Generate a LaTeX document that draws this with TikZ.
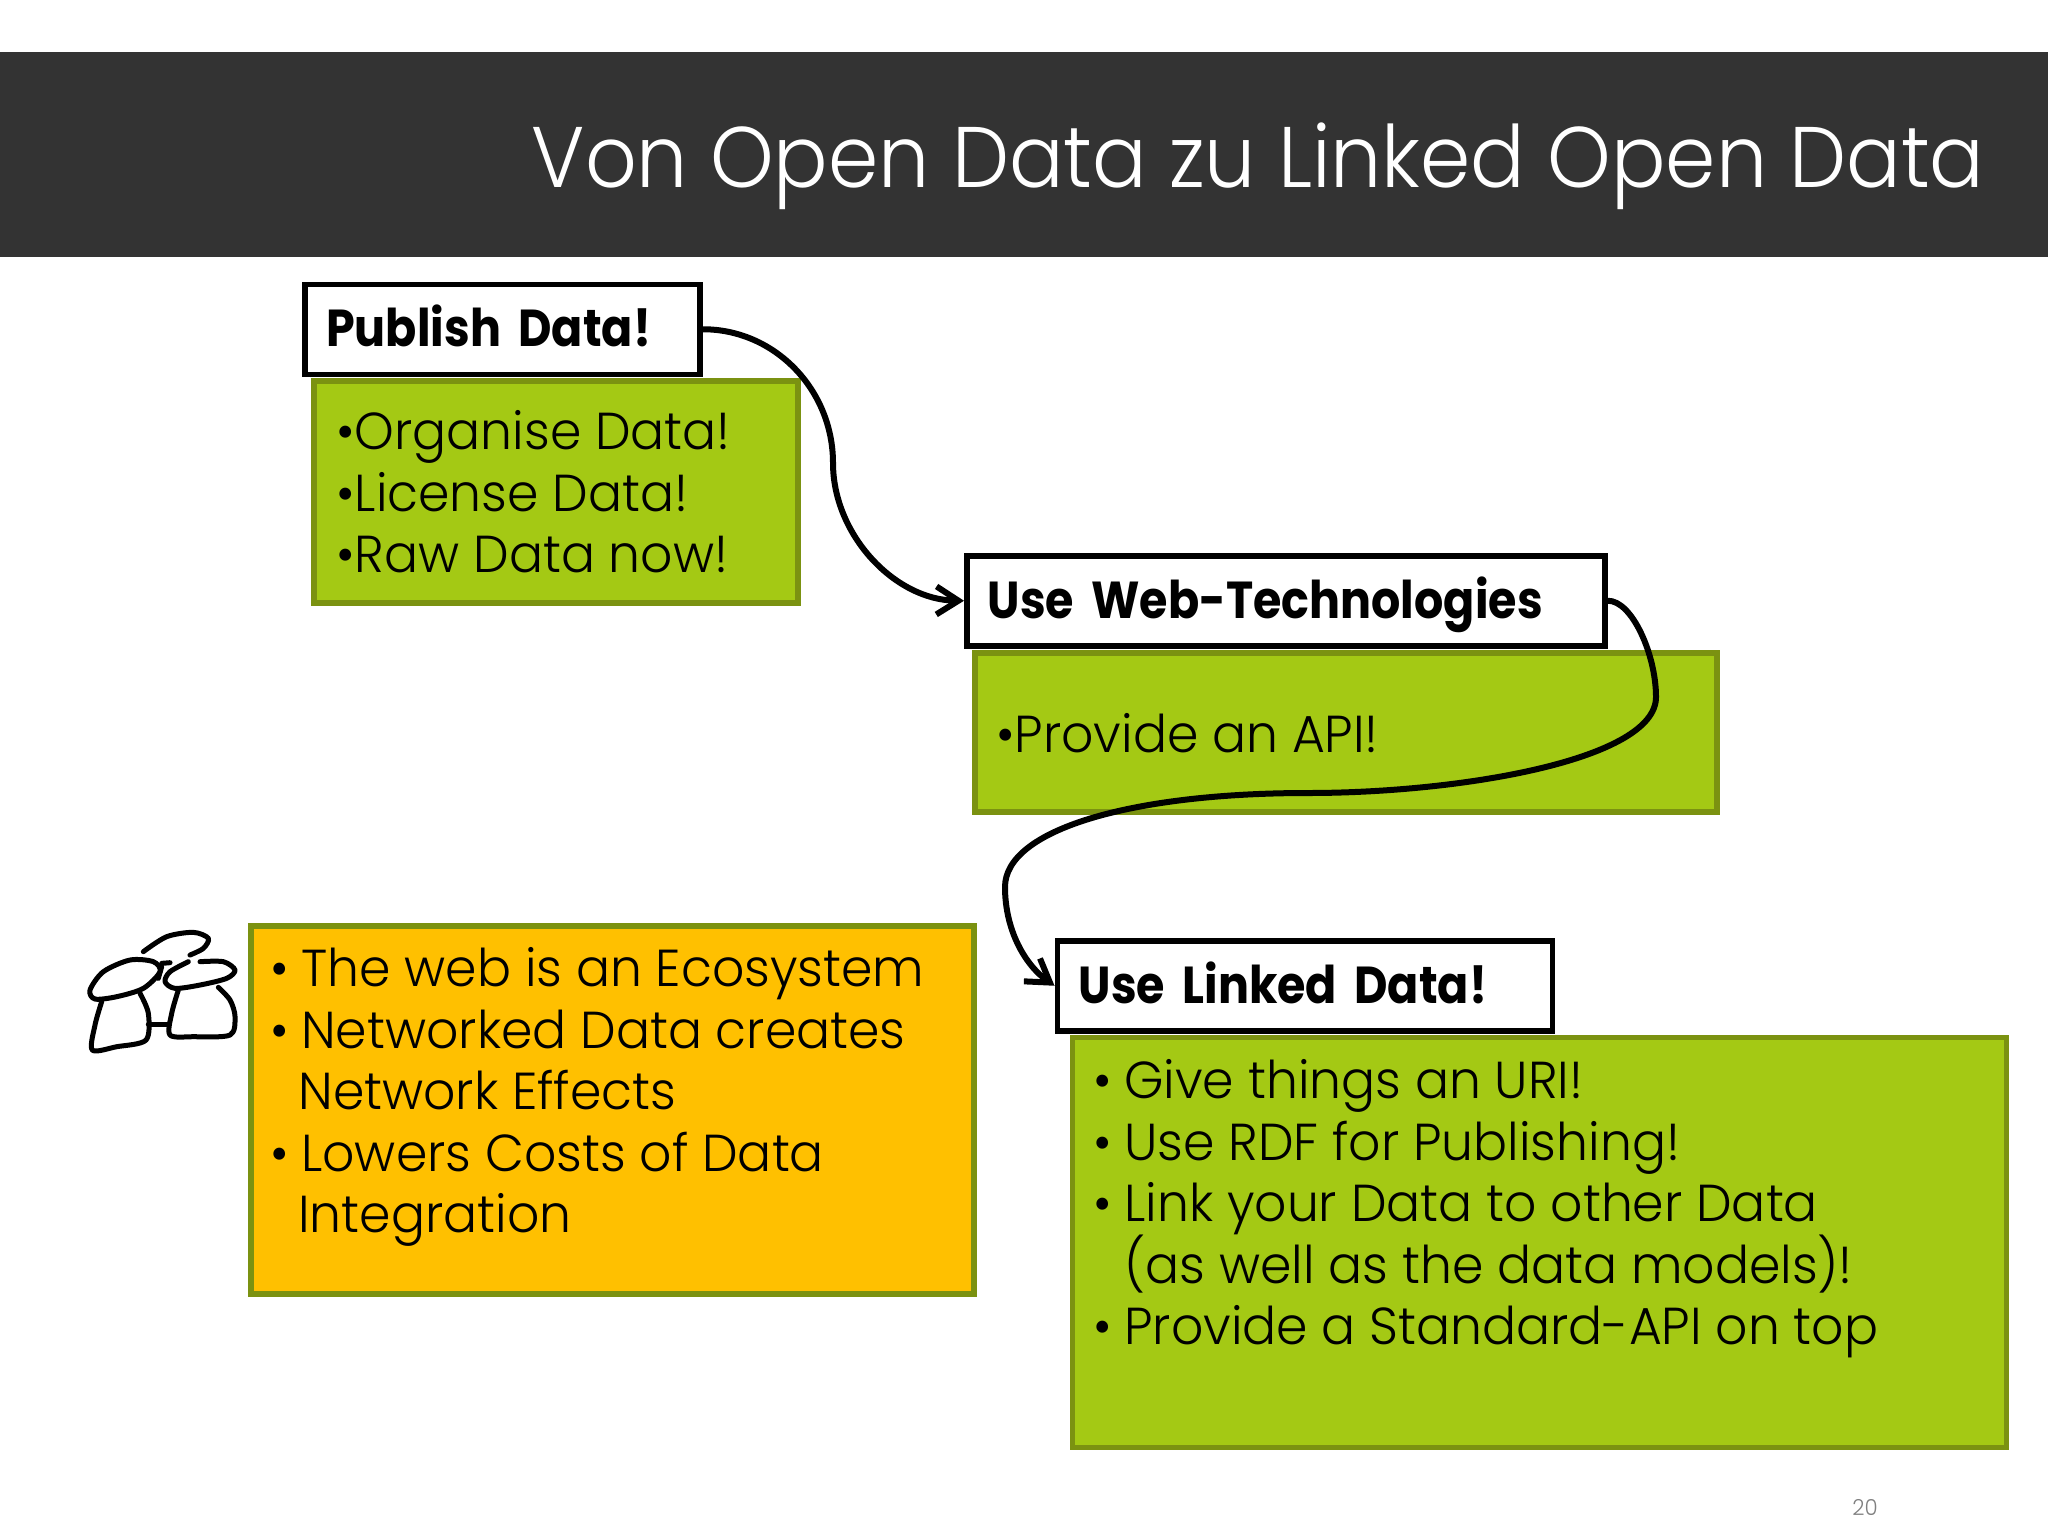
\documentclass[tikz,border=0pt]{standalone}
\usepackage{fontspec}
\setmainfont{Poppins Light}[FakeStretch=0.97]
\newfontfamily\titlefont{Poppins Light}[FakeStretch=0.94]
\newfontfamily\boldfont{Poppins Bold}[FakeStretch=0.885,WordSpace=0.8]
\usetikzlibrary{arrows.meta}
\definecolor{barcol}{HTML}{333333}
\definecolor{leafcol}{HTML}{A4C914}
\definecolor{leafedge}{HTML}{7B9211}
\definecolor{ambercol}{HTML}{FFC000}
\newcommand{\bulitem}{\makebox[15.5pt][l]{•}}
\newcommand{\bulcont}{\hspace*{15.5pt}}
\newcommand{\ecocont}{\hspace*{14pt}}
\newcommand{\bodysize}{\fontsize{26}{30.75}\selectfont\setlength{\lineskiplimit}{-10pt}}
\tikzset{
    headbox/.style={draw=black,fill=white,line width=2.75pt,inner sep=0pt,anchor=north west,
        font=\boldfont\fontsize{26}{30}\selectfont,align=left,text height=31.2pt,text depth=13.8pt},
    leafbox/.style={draw=leafedge,fill=leafcol,line width=2.75pt,inner sep=0pt,anchor=north west},
    ambox/.style={leafbox,fill=ambercol},
    bodytext/.style={inner sep=0pt,anchor=north west,align=left,font=\bodysize},
    conn/.style={draw=black,line width=3pt},
    sketch/.style={draw=black,line width=2.5pt,line cap=round,line join=round}
}
\begin{document}
\begin{tikzpicture}[x=0.5pt,y=-0.5pt,>={Straight Barb[length=11pt,width=14pt]}]
    \useasboundingbox (0,0) rectangle (2048,1536);
    % Title bar
    \fill[barcol] (0,52) rectangle (2048,257);
    \node[anchor=base east,inner sep=0pt,text=white,font=\titlefont\fontsize{43}{50}\selectfont] (title) at (1985,187) {Von Open Data zu Linked Open Data};

    % Green boxes
    \node[leafbox,minimum width=242pt,minimum height=111pt] (pubbox) at (311.25,378.25) {};
    \node[bodytext] (pubtext) at (336,410) {•Organise Data!\\•License Data!\\•Raw Data now!};

    \node[leafbox,minimum width=371pt,minimum height=79.5pt] (webbox) at (972.25,650.25) {};
    \node[bodytext] (webtext) at (996,713) {•Provide an API!};

    \node[leafbox,minimum width=467pt,minimum height=205pt] (linkbox) at (1069.5,1034.5) {};
    \node[bodytext] (linktext) at (1093,1059) {\bulitem Give things an URI!\\\bulitem Use RDF for Publishing!\\\bulitem Link your Data to other Data\\\bulcont (as well as the data models)!\\\bulitem Provide a Standard-API on top};

    % Ecosystem box
    \node[ambox,minimum width=361.5pt,minimum height=184pt] (ecobox) at (248.25,923.25) {};
    \node[bodytext] (ecotext) at (270,947) {\bulitem The web is an Ecosystem\\\bulitem Networked Data creates\\\ecocont Network Effects\\\bulitem Lowers Costs of Data\\\ecocont Integration};

    % Headings
    \node[headbox,minimum width=197.5pt,minimum height=45pt,text width=176pt] (publish) at (302,281.5) {Publish Data!};
    \node[headbox,minimum width=319pt,minimum height=45pt,text width=298pt] (web) at (964,553) {Use Web-Technologies};
    \node[headbox,minimum width=247.5pt,minimum height=45pt,text width=226pt] (linked) at (1054.5,938) {Use Linked Data!};

    % Connectors
    \coordinate (bendA) at (833,463);
    \coordinate (bendB) at (1656,697);
    \coordinate (bendC) at (1308,793);
    \coordinate (bendD) at (1005,887);
    \draw[conn,->] (publish.east) .. controls (775,329) and (833,390) .. (bendA)
        .. controls (833,535) and (895,600) .. (web.west);
    \draw[conn,->] (web.east) .. controls (1632,600) and (1656,655) .. (bendB)
        .. controls (1656,760) and (1460,793) .. (bendC)
        .. controls (1130,793) and (1005,830) .. (bendD)
        .. controls (1005,930) and (1025,965) .. (linked.west);

    % People sketch
    \begin{scope}[shift={(60,900)},x=0.1667pt,y=-0.1667pt]
        \draw[sketch] plot[smooth] coordinates {(250,155) (320,110) (400,97) (445,115) (430,145) (390,165)};
        \draw[sketch] plot[smooth cycle] coordinates {(90,270) (130,215) (210,180) (280,185) (300,215) (250,265) (170,290) (105,297)};
        \draw[sketch] plot[smooth] coordinates {(125,305) (105,375) (97,450) (170,440) (258,420) (265,340) (240,280)};
        \draw[sketch] plot[smooth] coordinates {(385,185) (330,215) (315,245) (345,265) (420,255) (500,235) (525,210) (490,185) (420,185)};
        \draw[sketch] plot[smooth] coordinates {(355,270) (335,340) (330,405) (400,410) (510,405) (525,350) (510,300) (475,262)};
        \draw[sketch] (265,372) -- (325,372);
        \draw[sketch] (305,190) -- (330,188);
        \draw[sketch] (305,200) -- (295,235);
    \end{scope}

    % Page number
    \node[anchor=base,inner sep=0pt,text=black!50,font=\fontsize{11}{13}\selectfont] (pagenum) at (1865,1515) {20};
\end{tikzpicture}
\end{document}
